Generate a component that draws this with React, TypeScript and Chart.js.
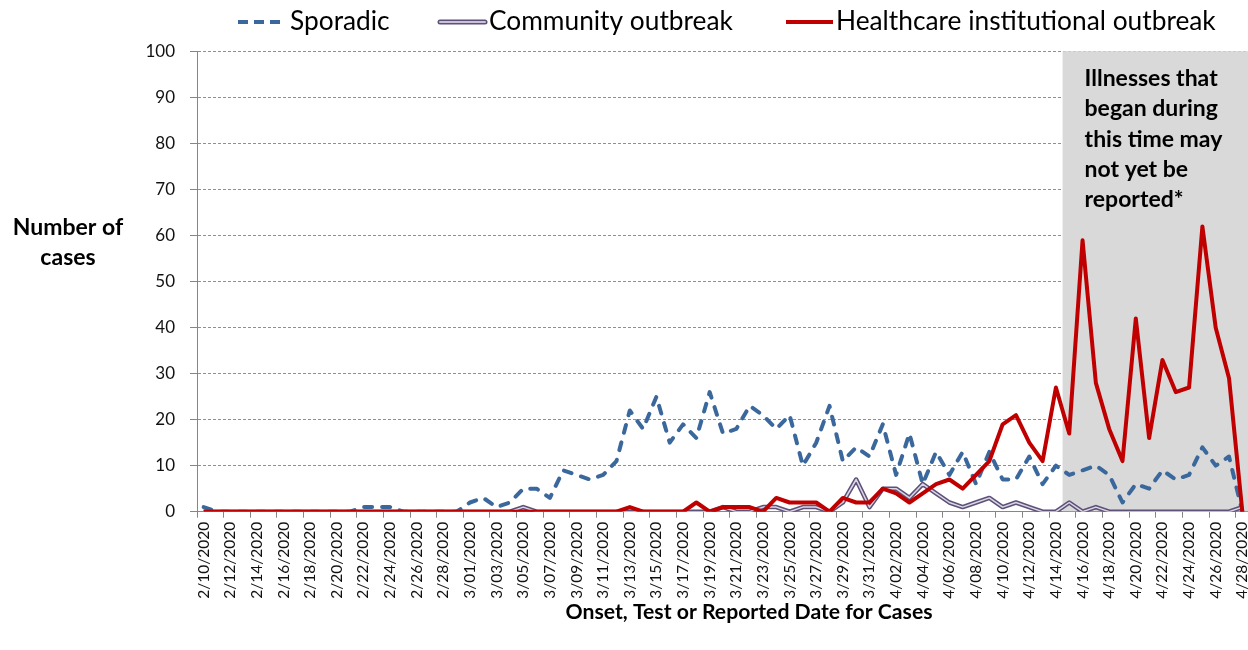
import React, { useEffect, useRef } from 'react';
import { Chart, registerables } from 'chart.js';

Chart.register(...registerables);

const dates = [
  '2/10/2020', '2/11/2020', '2/12/2020', '2/13/2020', '2/14/2020', '2/15/2020', '2/16/2020', '2/17/2020', '2/18/2020', '2/19/2020',
  '2/20/2020', '2/21/2020', '2/22/2020', '2/23/2020', '2/24/2020', '2/25/2020', '2/26/2020', '2/27/2020', '2/28/2020', '2/29/2020',
  '3/01/2020', '3/02/2020', '3/03/2020', '3/04/2020', '3/05/2020', '3/06/2020', '3/07/2020', '3/08/2020', '3/09/2020', '3/10/2020',
  '3/11/2020', '3/12/2020', '3/13/2020', '3/14/2020', '3/15/2020', '3/16/2020', '3/17/2020', '3/18/2020', '3/19/2020', '3/20/2020',
  '3/21/2020', '3/22/2020', '3/23/2020', '3/24/2020', '3/25/2020', '3/26/2020', '3/27/2020', '3/28/2020', '3/29/2020', '3/30/2020',
  '3/31/2020', '4/01/2020', '4/02/2020', '4/03/2020', '4/04/2020', '4/05/2020', '4/06/2020', '4/07/2020', '4/08/2020', '4/09/2020',
  '4/10/2020', '4/11/2020', '4/12/2020', '4/13/2020', '4/14/2020', '4/15/2020', '4/16/2020', '4/17/2020', '4/18/2020', '4/19/2020',
  '4/20/2020', '4/21/2020', '4/22/2020', '4/23/2020', '4/24/2020', '4/25/2020', '4/26/2020', '4/27/2020', '4/28/2020',
];

const sporadic = [
  1, 0, 0, 0, 0, 0, 0, 0, 0, 0,
  0, 0, 1, 1, 1, 0, 0, 0, 0, 0,
  2, 3, 1, 2, 5, 5, 3, 9, 8, 7,
  8, 11, 22, 18, 25, 15, 19, 16, 26, 17,
  18, 23, 21, 18, 21, 10, 15, 23, 11, 14,
  12, 19, 8, 17, 6, 13, 8, 13, 6, 13,
  7, 7, 12, 6, 10, 8, 9, 10, 8, 2,
  6, 5, 9, 7, 8, 14, 10, 12, 0,
];

const community = [
  0, 0, 0, 0, 0, 0, 0, 0, 0, 0,
  0, 0, 0, 0, 0, 0, 0, 0, 0, 0,
  0, 0, 0, 0, 1, 0, 0, 0, 0, 0,
  0, 0, 0, 0, 0, 0, 0, 0, 0, 1,
  0, 0, 1, 1, 0, 1, 1, 0, 2, 7,
  1, 5, 5, 3, 6, 4, 2, 1, 2, 3,
  1, 2, 1, 0, 0, 2, 0, 1, 0, 0,
  0, 0, 0, 0, 0, 0, 0, 0, 1,
];

const healthcare = [
  0, 0, 0, 0, 0, 0, 0, 0, 0, 0,
  0, 0, 0, 0, 0, 0, 0, 0, 0, 0,
  0, 0, 0, 0, 0, 0, 0, 0, 0, 0,
  0, 0, 1, 0, 0, 0, 0, 2, 0, 1,
  1, 1, 0, 3, 2, 2, 2, 0, 3, 2,
  2, 5, 4, 2, 4, 6, 7, 5, 8, 11,
  19, 21, 15, 11, 27, 17, 59, 28, 18, 11,
  42, 16, 33, 26, 27, 62, 40, 29, 0,
];

const seriesLabels = ['Sporadic', 'Community outbreak', 'Healthcare institutional outbreak'];
const shadeStartDate = '4/15/2020';
const shadeNote = ['Illnesses that', 'began during', 'this time may', 'not yet be', 'reported*'];
const yTitleLines = ['Number of', 'cases'];
const xTitle = 'Onset, Test or Reported Date for Cases';

const FONT = 'Lato';
const BLUE = '#3b689c';
const PURPLE = '#5d5178';
const PURPLE_IN = '#dcd6e6';
const RED = '#c00000';
const GRAY = '#868686';

const decorPlugin = {
  id: 'decor',
  beforeDatasetsDraw(chart: any) {
    const { ctx, chartArea, scales } = chart;
    const xs = scales.x;
    const i = dates.indexOf(shadeStartDate);
    const left = (xs.getPixelForValue(i - 1) + xs.getPixelForValue(i)) / 2;
    ctx.save();
    ctx.fillStyle = '#d9d9d9';
    ctx.fillRect(left, chartArea.top - 0.5, chartArea.right - left, chartArea.bottom - chartArea.top);
    ctx.fillStyle = '#000';
    ctx.font = `bold 23px ${FONT}`;
    ctx.textBaseline = 'middle';
    ctx.textAlign = 'left';
    shadeNote.forEach((t, k) => ctx.fillText(t, left + 22, chartArea.top + 27 + k * 30.3));
    ctx.restore();
  },
  afterDraw(chart: any) {
    const { ctx } = chart;
    ctx.save();
    const ly = 22;
    // sporadic
    ctx.lineCap = 'butt';
    ctx.strokeStyle = BLUE;
    ctx.lineWidth = 4;
    ctx.setLineDash([10, 6]);
    ctx.beginPath();
    ctx.moveTo(238, ly);
    ctx.lineTo(284, ly);
    ctx.stroke();
    ctx.setLineDash([]);
    // community
    ctx.lineCap = 'round';
    ctx.strokeStyle = PURPLE;
    ctx.lineWidth = 5;
    ctx.beginPath();
    ctx.moveTo(440, ly);
    ctx.lineTo(485, ly);
    ctx.stroke();
    ctx.strokeStyle = '#ccc1da';
    ctx.lineWidth = 2;
    ctx.beginPath();
    ctx.moveTo(440, ly);
    ctx.lineTo(485, ly);
    ctx.stroke();
    // healthcare
    ctx.lineCap = 'butt';
    ctx.strokeStyle = RED;
    ctx.lineWidth = 4;
    ctx.beginPath();
    ctx.moveTo(786, ly);
    ctx.lineTo(833, ly);
    ctx.stroke();

    ctx.fillStyle = '#000';
    ctx.font = `26.3px ${FONT}`;
    ctx.textBaseline = 'middle';
    ctx.textAlign = 'left';
    ctx.fillText(seriesLabels[0], 290, ly);
    ctx.fillText(seriesLabels[1], 489, ly);
    ctx.fillText(seriesLabels[2], 836, ly);

    // axis titles
    ctx.font = `bold 23px ${FONT}`;
    ctx.textAlign = 'center';
    ctx.fillText(yTitleLines[0], 68, 228);
    ctx.fillText(yTitleLines[1], 68, 258);
    ctx.font = `bold 21.2px ${FONT}`;
    ctx.fillText(xTitle, 749, 612);
    ctx.restore();
  },
};

export default function App() {
  const ref = useRef<HTMLCanvasElement | null>(null);

  useEffect(() => {
    let chart: Chart | null = null;
    let cancelled = false;
    const build = () => {
      if (cancelled || !ref.current) return;
      chart = new Chart(ref.current, {
        type: 'line',
        data: {
          labels: dates,
          datasets: [
            {
              label: seriesLabels[0],
              data: sporadic,
              borderColor: BLUE,
              borderWidth: 4,
              borderDash: [8, 10],
              borderCapStyle: 'round',
              borderJoinStyle: 'round',
              pointRadius: 0,
              tension: 0,
              order: 3,
            },
            {
              label: seriesLabels[1],
              data: community,
              borderColor: PURPLE,
              borderWidth: 4.5,
              borderJoinStyle: 'round',
              pointRadius: 0,
              tension: 0,
              order: 2,
            },
            {
              label: seriesLabels[1] + ' inner',
              data: community,
              borderColor: PURPLE_IN,
              borderWidth: 1.5,
              borderJoinStyle: 'round',
              pointRadius: 0,
              tension: 0,
              order: 1,
            },
            {
              label: seriesLabels[2],
              data: healthcare,
              borderColor: RED,
              borderWidth: 4,
              borderJoinStyle: 'round',
              pointRadius: 0,
              tension: 0,
              order: 0,
            },
          ],
        },
        options: {
          responsive: false,
          animation: false,
          devicePixelRatio: 1,
          layout: { padding: { top: 51.7, left: 0, right: 0, bottom: 0 } },
          plugins: {
            legend: { display: false },
            tooltip: { enabled: false },
            title: { display: false },
          },
          scales: {
            x: {
              type: 'category',
              offset: true,
              grid: {
                display: true,
                drawOnChartArea: false,
                drawTicks: true,
                tickLength: 6,
                offset: true,
                color: (c: any) => (c.index % 2 === 0 ? GRAY : 'rgba(0,0,0,0)'),
              },
              border: { display: true, color: GRAY, width: 1 },
              ticks: {
                autoSkip: false,
                minRotation: 90,
                maxRotation: 90,
                padding: 4,
                color: '#111',
                font: { family: FONT, size: 15.5 },
                callback: (_v: any, i: number) => (i % 2 === 0 ? dates[i] : ''),
              },
              afterFit: (s: any) => {
                s.height = 650 - 511.7;
                s.paddingLeft = 0;
                s.paddingRight = 0;
              },
            },
            y: {
              min: 0,
              max: 100,
              grid: {
                color: '#8f8f8f',
                lineWidth: 1,
                tickLength: 7,
                tickColor: GRAY,
              },
              border: { display: true, color: GRAY, width: 1, dash: [3, 2] },
              ticks: {
                stepSize: 10,
                padding: 15,
                color: '#111',
                font: { family: FONT, size: 17 },
              },
              afterFit: (s: any) => {
                s.width = 197;
              },
            },
          },
        },
        plugins: [decorPlugin],
      } as any);
    };
    const fonts: any = (document as any).fonts;
    if (fonts && fonts.load) {
      Promise.all([
        fonts.load(`22px ${FONT}`),
        fonts.load(`bold 20px ${FONT}`),
      ]).then(build, build);
    } else {
      build();
    }
    return () => {
      cancelled = true;
      if (chart) chart.destroy();
    };
  }, []);

  return (
    <div style={{ position: 'absolute', left: 0, top: 0, width: 1248, height: 650, overflow: 'hidden', background: '#fff' }}>
      <canvas ref={ref} width={1249} height={650} style={{ display: 'block' }} />
    </div>
  );
}
